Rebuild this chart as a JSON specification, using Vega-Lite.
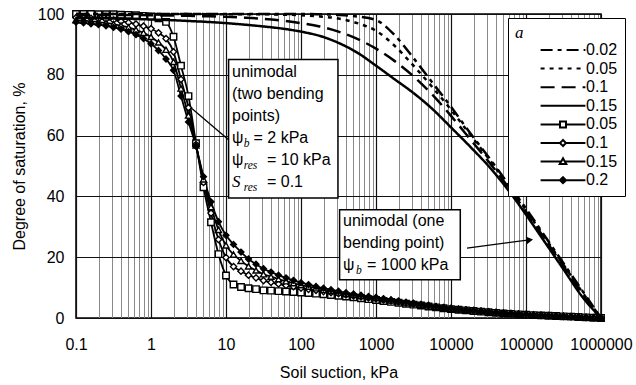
{
"$schema": "https://vega.github.io/schema/vega-lite/v6.json",
"width": 525, "height": 304,
"autosize": "none",
"padding": {"left": 76, "top": 14, "right": 35, "bottom": 67},
"background": "white",
"config": {
  "font": "Liberation Sans",
  "view": {"stroke": "black", "strokeWidth": 1.5},
  "axis": {"labelFont": "Liberation Sans", "labelFontSize": 16, "labelColor": "black", "titleFont": "Liberation Sans", "titleFontSize": 16, "titleFontWeight": "normal", "titleColor": "black", "ticks": false, "domain": false},
  "legend": {"fillColor": "white", "strokeColor": "black", "padding": 7, "titleFont": "Liberation Serif", "titleFontStyle": "italic", "titleFontWeight": "normal", "titleFontSize": 17, "titleColor": "black", "titlePadding": 0, "labelFont": "Liberation Sans", "labelFontSize": 16, "labelColor": "black", "symbolSize": 196, "symbolStrokeWidth": 2, "symbolStrokeColor": "black", "symbolOpacity": 1, "symbolOffset": 40, "labelOffset": 15, "rowPadding": 2.6}
},
"datasets": {
"bi": [
{"s":"b0.05","p":0.1,"S":100},{"s":"b0.05","p":0.1259,"S":100},{"s":"b0.05","p":0.1585,"S":100},{"s":"b0.05","p":0.1995,"S":99.9},{"s":"b0.05","p":0.2512,"S":99.9},{"s":"b0.05","p":0.3162,"S":99.9},{"s":"b0.05","p":0.3981,"S":99.8},{"s":"b0.05","p":0.5012,"S":99.7},{"s":"b0.05","p":0.631,"S":99.6},{"s":"b0.05","p":0.7943,"S":99.4},
{"s":"b0.05","p":1,"S":99.2},{"s":"b0.05","p":1.259,"S":98.6},{"s":"b0.05","p":1.585,"S":97.4},{"s":"b0.05","p":1.995,"S":92.5},{"s":"b0.05","p":2.512,"S":83},{"s":"b0.05","p":3.162,"S":73},{"s":"b0.05","p":3.981,"S":57.5},{"s":"b0.05","p":5.012,"S":43},{"s":"b0.05","p":6.31,"S":31.5},{"s":"b0.05","p":7.943,"S":21},
{"s":"b0.05","p":10,"S":14},{"s":"b0.05","p":12.59,"S":11},{"s":"b0.05","p":15.85,"S":10.2},{"s":"b0.05","p":19.95,"S":9.8},{"s":"b0.05","p":25.12,"S":9.5},{"s":"b0.05","p":31.62,"S":9.1},{"s":"b0.05","p":39.81,"S":9.0},{"s":"b0.05","p":50.12,"S":8.85},{"s":"b0.05","p":63.1,"S":8.7},{"s":"b0.05","p":79.43,"S":8.55},
{"s":"b0.05","p":100,"S":8.4},{"s":"b0.05","p":125.9,"S":8.2},{"s":"b0.05","p":158.5,"S":8.0},{"s":"b0.05","p":199.5,"S":7.8},{"s":"b0.05","p":251.2,"S":7.55},{"s":"b0.05","p":316.2,"S":7.3},{"s":"b0.05","p":398.1,"S":7.05},{"s":"b0.05","p":501.2,"S":6.8},{"s":"b0.05","p":631,"S":6.5},{"s":"b0.05","p":794.3,"S":6.2},
{"s":"b0.05","p":1000,"S":5.9},{"s":"b0.05","p":1259,"S":5.6},{"s":"b0.05","p":1585,"S":5.3},{"s":"b0.05","p":1995,"S":5.0},{"s":"b0.05","p":2512,"S":4.7},{"s":"b0.05","p":3162,"S":4.4},{"s":"b0.05","p":3981,"S":4.1},{"s":"b0.05","p":5012,"S":3.8},{"s":"b0.05","p":6310,"S":3.5},{"s":"b0.05","p":7943,"S":3.2},
{"s":"b0.05","p":10000,"S":2.9},{"s":"b0.05","p":12590,"S":2.7},{"s":"b0.05","p":15850,"S":2.5},{"s":"b0.05","p":19950,"S":2.3},{"s":"b0.05","p":25120,"S":2.1},{"s":"b0.05","p":31620,"S":1.9},{"s":"b0.05","p":39810,"S":1.7},{"s":"b0.05","p":50120,"S":1.5},{"s":"b0.05","p":63100,"S":1.35},{"s":"b0.05","p":79430,"S":1.2},
{"s":"b0.05","p":100000,"S":1.05},{"s":"b0.05","p":125900,"S":0.95},{"s":"b0.05","p":158500,"S":0.85},{"s":"b0.05","p":199500,"S":0.75},{"s":"b0.05","p":251200,"S":0.65},{"s":"b0.05","p":316200,"S":0.55},{"s":"b0.05","p":398100,"S":0.45},{"s":"b0.05","p":501200,"S":0.35},{"s":"b0.05","p":631000,"S":0.22},{"s":"b0.05","p":794300,"S":0.1},{"s":"b0.05","p":1000000,"S":0},

{"s":"b0.1","p":0.1,"S":98.8},{"s":"b0.1","p":0.1259,"S":98.7},{"s":"b0.1","p":0.1585,"S":98.6},{"s":"b0.1","p":0.1995,"S":98.4},{"s":"b0.1","p":0.2512,"S":98.2},{"s":"b0.1","p":0.3162,"S":98.0},{"s":"b0.1","p":0.3981,"S":97.6},{"s":"b0.1","p":0.5012,"S":97.2},{"s":"b0.1","p":0.631,"S":96.7},{"s":"b0.1","p":0.7943,"S":96.0},
{"s":"b0.1","p":1,"S":95.15},{"s":"b0.1","p":1.259,"S":93.8},{"s":"b0.1","p":1.585,"S":91.9},{"s":"b0.1","p":1.995,"S":87.55},{"s":"b0.1","p":2.512,"S":78.5},{"s":"b0.1","p":3.162,"S":69.2},{"s":"b0.1","p":3.981,"S":57.05},{"s":"b0.1","p":5.012,"S":44.6},{"s":"b0.1","p":6.31,"S":34.5},{"s":"b0.1","p":7.943,"S":25.8},
{"s":"b0.1","p":10,"S":19.9},{"s":"b0.1","p":12.59,"S":16.9},{"s":"b0.1","p":15.85,"S":15.4},{"s":"b0.1","p":19.95,"S":14.1},{"s":"b0.1","p":25.12,"S":13.2},{"s":"b0.1","p":31.62,"S":12.3},{"s":"b0.1","p":39.81,"S":11.75},{"s":"b0.1","p":50.12,"S":11.2},{"s":"b0.1","p":63.1,"S":10.7},{"s":"b0.1","p":79.43,"S":10.3},
{"s":"b0.1","p":100,"S":9.85},{"s":"b0.1","p":125.9,"S":9.45},{"s":"b0.1","p":158.5,"S":9.1},{"s":"b0.1","p":199.5,"S":8.7},{"s":"b0.1","p":251.2,"S":8.35},{"s":"b0.1","p":316.2,"S":8.0},{"s":"b0.1","p":398.1,"S":7.6},{"s":"b0.1","p":501.2,"S":7.3},{"s":"b0.1","p":631,"S":6.95},{"s":"b0.1","p":794.3,"S":6.6},
{"s":"b0.1","p":1000,"S":6.3},{"s":"b0.1","p":1259,"S":5.95},{"s":"b0.1","p":1585,"S":5.6},{"s":"b0.1","p":1995,"S":5.3},{"s":"b0.1","p":2512,"S":4.9},{"s":"b0.1","p":3162,"S":4.6},{"s":"b0.1","p":3981,"S":4.3},{"s":"b0.1","p":5012,"S":4.0},{"s":"b0.1","p":6310,"S":3.65},{"s":"b0.1","p":7943,"S":3.35},
{"s":"b0.1","p":10000,"S":3.05},{"s":"b0.1","p":12590,"S":2.8},{"s":"b0.1","p":15850,"S":2.6},{"s":"b0.1","p":19950,"S":2.4},{"s":"b0.1","p":25120,"S":2.2},{"s":"b0.1","p":31620,"S":2.0},{"s":"b0.1","p":39810,"S":1.8},{"s":"b0.1","p":50120,"S":1.6},{"s":"b0.1","p":63100,"S":1.42},{"s":"b0.1","p":79430,"S":1.27},
{"s":"b0.1","p":100000,"S":1.12},{"s":"b0.1","p":125900,"S":1.0},{"s":"b0.1","p":158500,"S":0.87},{"s":"b0.1","p":199500,"S":0.77},{"s":"b0.1","p":251200,"S":0.67},{"s":"b0.1","p":316200,"S":0.57},{"s":"b0.1","p":398100,"S":0.45},{"s":"b0.1","p":501200,"S":0.35},{"s":"b0.1","p":631000,"S":0.22},{"s":"b0.1","p":794300,"S":0.1},{"s":"b0.1","p":1000000,"S":0},

{"s":"b0.15","p":0.1,"S":98.0},{"s":"b0.15","p":0.1259,"S":97.8},{"s":"b0.15","p":0.1585,"S":97.6},{"s":"b0.15","p":0.1995,"S":97.35},{"s":"b0.15","p":0.2512,"S":97.05},{"s":"b0.15","p":0.3162,"S":96.7},{"s":"b0.15","p":0.3981,"S":96.2},{"s":"b0.15","p":0.5012,"S":95.6},{"s":"b0.15","p":0.631,"S":94.8},{"s":"b0.15","p":0.7943,"S":93.8},
{"s":"b0.15","p":1,"S":92.45},{"s":"b0.15","p":1.259,"S":90.65},{"s":"b0.15","p":1.585,"S":88.25},{"s":"b0.15","p":1.995,"S":84.25},{"s":"b0.15","p":2.512,"S":75.5},{"s":"b0.15","p":3.162,"S":66.6},{"s":"b0.15","p":3.981,"S":56.75},{"s":"b0.15","p":5.012,"S":45.6},{"s":"b0.15","p":6.31,"S":36.5},{"s":"b0.15","p":7.943,"S":29.0},
{"s":"b0.15","p":10,"S":23.9},{"s":"b0.15","p":12.59,"S":20.9},{"s":"b0.15","p":15.85,"S":18.8},{"s":"b0.15","p":19.95,"S":17.0},{"s":"b0.15","p":25.12,"S":15.65},{"s":"b0.15","p":31.62,"S":14.4},{"s":"b0.15","p":39.81,"S":13.6},{"s":"b0.15","p":50.12,"S":12.8},{"s":"b0.15","p":63.1,"S":12.1},{"s":"b0.15","p":79.43,"S":11.45},
{"s":"b0.15","p":100,"S":10.8},{"s":"b0.15","p":125.9,"S":10.3},{"s":"b0.15","p":158.5,"S":9.8},{"s":"b0.15","p":199.5,"S":9.3},{"s":"b0.15","p":251.2,"S":8.85},{"s":"b0.15","p":316.2,"S":8.4},{"s":"b0.15","p":398.1,"S":7.95},{"s":"b0.15","p":501.2,"S":7.6},{"s":"b0.15","p":631,"S":7.25},{"s":"b0.15","p":794.3,"S":6.9},
{"s":"b0.15","p":1000,"S":6.6},{"s":"b0.15","p":1259,"S":6.2},{"s":"b0.15","p":1585,"S":5.8},{"s":"b0.15","p":1995,"S":5.45},{"s":"b0.15","p":2512,"S":5.1},{"s":"b0.15","p":3162,"S":4.8},{"s":"b0.15","p":3981,"S":4.4},{"s":"b0.15","p":5012,"S":4.1},{"s":"b0.15","p":6310,"S":3.7},{"s":"b0.15","p":7943,"S":3.4},
{"s":"b0.15","p":10000,"S":3.1},{"s":"b0.15","p":12590,"S":2.85},{"s":"b0.15","p":15850,"S":2.65},{"s":"b0.15","p":19950,"S":2.45},{"s":"b0.15","p":25120,"S":2.25},{"s":"b0.15","p":31620,"S":2.05},{"s":"b0.15","p":39810,"S":1.85},{"s":"b0.15","p":50120,"S":1.65},{"s":"b0.15","p":63100,"S":1.46},{"s":"b0.15","p":79430,"S":1.31},
{"s":"b0.15","p":100000,"S":1.16},{"s":"b0.15","p":125900,"S":1.03},{"s":"b0.15","p":158500,"S":0.89},{"s":"b0.15","p":199500,"S":0.79},{"s":"b0.15","p":251200,"S":0.69},{"s":"b0.15","p":316200,"S":0.59},{"s":"b0.15","p":398100,"S":0.45},{"s":"b0.15","p":501200,"S":0.35},{"s":"b0.15","p":631000,"S":0.22},{"s":"b0.15","p":794300,"S":0.1},{"s":"b0.15","p":1000000,"S":0},

{"s":"b0.2","p":0.1,"S":97.3},{"s":"b0.2","p":0.1259,"S":97.1},{"s":"b0.2","p":0.1585,"S":96.8},{"s":"b0.2","p":0.1995,"S":96.5},{"s":"b0.2","p":0.2512,"S":96.1},{"s":"b0.2","p":0.3162,"S":95.6},{"s":"b0.2","p":0.3981,"S":95.0},{"s":"b0.2","p":0.5012,"S":94.2},{"s":"b0.2","p":0.631,"S":93.2},{"s":"b0.2","p":0.7943,"S":91.9},
{"s":"b0.2","p":1,"S":90.2},{"s":"b0.2","p":1.259,"S":88.0},{"s":"b0.2","p":1.585,"S":85.2},{"s":"b0.2","p":1.995,"S":81.5},{"s":"b0.2","p":2.512,"S":73},{"s":"b0.2","p":3.162,"S":64.5},{"s":"b0.2","p":3.981,"S":56.5},{"s":"b0.2","p":5.012,"S":46.5},{"s":"b0.2","p":6.31,"S":38.2},{"s":"b0.2","p":7.943,"S":31.7},
{"s":"b0.2","p":10,"S":27.2},{"s":"b0.2","p":12.59,"S":24.2},{"s":"b0.2","p":15.85,"S":21.7},{"s":"b0.2","p":19.95,"S":19.4},{"s":"b0.2","p":25.12,"S":17.7},{"s":"b0.2","p":31.62,"S":16.2},{"s":"b0.2","p":39.81,"S":15.1},{"s":"b0.2","p":50.12,"S":14.1},{"s":"b0.2","p":63.1,"S":13.2},{"s":"b0.2","p":79.43,"S":12.4},
{"s":"b0.2","p":100,"S":11.6},{"s":"b0.2","p":125.9,"S":11.0},{"s":"b0.2","p":158.5,"S":10.4},{"s":"b0.2","p":199.5,"S":9.8},{"s":"b0.2","p":251.2,"S":9.3},{"s":"b0.2","p":316.2,"S":8.8},{"s":"b0.2","p":398.1,"S":8.3},{"s":"b0.2","p":501.2,"S":7.9},{"s":"b0.2","p":631,"S":7.5},{"s":"b0.2","p":794.3,"S":7.1},
{"s":"b0.2","p":1000,"S":6.8},{"s":"b0.2","p":1259,"S":6.4},{"s":"b0.2","p":1585,"S":6.0},{"s":"b0.2","p":1995,"S":5.6},{"s":"b0.2","p":2512,"S":5.2},{"s":"b0.2","p":3162,"S":4.9},{"s":"b0.2","p":3981,"S":4.5},{"s":"b0.2","p":5012,"S":4.2},{"s":"b0.2","p":6310,"S":3.8},{"s":"b0.2","p":7943,"S":3.5},
{"s":"b0.2","p":10000,"S":3.2},{"s":"b0.2","p":12590,"S":2.9},{"s":"b0.2","p":15850,"S":2.7},{"s":"b0.2","p":19950,"S":2.5},{"s":"b0.2","p":25120,"S":2.3},{"s":"b0.2","p":31620,"S":2.1},{"s":"b0.2","p":39810,"S":1.9},{"s":"b0.2","p":50120,"S":1.7},{"s":"b0.2","p":63100,"S":1.5},{"s":"b0.2","p":79430,"S":1.35},
{"s":"b0.2","p":100000,"S":1.2},{"s":"b0.2","p":125900,"S":1.05},{"s":"b0.2","p":158500,"S":0.9},{"s":"b0.2","p":199500,"S":0.8},{"s":"b0.2","p":251200,"S":0.7},{"s":"b0.2","p":316200,"S":0.6},{"s":"b0.2","p":398100,"S":0.45},{"s":"b0.2","p":501200,"S":0.35},{"s":"b0.2","p":631000,"S":0.22},{"s":"b0.2","p":794300,"S":0.1},{"s":"b0.2","p":1000000,"S":0}
],
"uni": [
{"s":"u0.15","p":0.1,"S":98.8},{"s":"u0.15","p":0.1778,"S":98.7},{"s":"u0.15","p":0.3162,"S":98.5},{"s":"u0.15","p":0.5623,"S":98.4},{"s":"u0.15","p":1,"S":98.2},{"s":"u0.15","p":1.778,"S":98.0},{"s":"u0.15","p":3.162,"S":97.7},{"s":"u0.15","p":5.623,"S":97.4},{"s":"u0.15","p":10,"S":97.0},{"s":"u0.15","p":17.78,"S":96.5},{"s":"u0.15","p":31.62,"S":95.9},{"s":"u0.15","p":56.23,"S":95.2},{"s":"u0.15","p":100,"S":94.2},{"s":"u0.15","p":177.8,"S":92.8},{"s":"u0.15","p":316.2,"S":90.5},{"s":"u0.15","p":562.3,"S":87.3},{"s":"u0.15","p":1000,"S":83},{"s":"u0.15","p":1778,"S":78.5},{"s":"u0.15","p":3162,"S":74},{"s":"u0.15","p":5623,"S":68.8},{"s":"u0.15","p":10000,"S":62.7},{"s":"u0.15","p":17780,"S":56.5},{"s":"u0.15","p":31620,"S":50},{"s":"u0.15","p":56230,"S":42.5},{"s":"u0.15","p":100000,"S":34},{"s":"u0.15","p":177800,"S":25},{"s":"u0.15","p":316200,"S":16},{"s":"u0.15","p":562300,"S":7},{"s":"u0.15","p":1000000,"S":0},
{"s":"u0.1","p":0.1,"S":99.8},{"s":"u0.1","p":0.1778,"S":99.75},{"s":"u0.1","p":0.3162,"S":99.7},{"s":"u0.1","p":0.5623,"S":99.65},{"s":"u0.1","p":1,"S":99.6},{"s":"u0.1","p":1.778,"S":99.5},{"s":"u0.1","p":3.162,"S":99.4},{"s":"u0.1","p":5.623,"S":99.25},{"s":"u0.1","p":10,"S":99.1},{"s":"u0.1","p":17.78,"S":98.8},{"s":"u0.1","p":31.62,"S":98.4},{"s":"u0.1","p":56.23,"S":97.8},{"s":"u0.1","p":100,"S":97.0},{"s":"u0.1","p":177.8,"S":95.9},{"s":"u0.1","p":316.2,"S":94.2},{"s":"u0.1","p":562.3,"S":91.8},{"s":"u0.1","p":1000,"S":88.6},{"s":"u0.1","p":1778,"S":84.5},{"s":"u0.1","p":3162,"S":79.5},{"s":"u0.1","p":5623,"S":73.5},{"s":"u0.1","p":10000,"S":66.5},{"s":"u0.1","p":17780,"S":59},{"s":"u0.1","p":31620,"S":51.5},{"s":"u0.1","p":56230,"S":43.5},{"s":"u0.1","p":100000,"S":35},{"s":"u0.1","p":177800,"S":26},{"s":"u0.1","p":316200,"S":17},{"s":"u0.1","p":562300,"S":8},{"s":"u0.1","p":1000000,"S":0},
{"s":"u0.05","p":0.1,"S":100},{"s":"u0.05","p":0.1778,"S":100},{"s":"u0.05","p":0.3162,"S":100},{"s":"u0.05","p":0.5623,"S":100},{"s":"u0.05","p":1,"S":100},{"s":"u0.05","p":1.778,"S":100},{"s":"u0.05","p":3.162,"S":100},{"s":"u0.05","p":5.623,"S":99.95},{"s":"u0.05","p":10,"S":99.9},{"s":"u0.05","p":17.78,"S":99.9},{"s":"u0.05","p":31.62,"S":99.9},{"s":"u0.05","p":56.23,"S":99.8},{"s":"u0.05","p":100,"S":99.6},{"s":"u0.05","p":177.8,"S":99.2},{"s":"u0.05","p":316.2,"S":98.5},{"s":"u0.05","p":562.3,"S":97},{"s":"u0.05","p":1000,"S":94.5},{"s":"u0.05","p":1778,"S":89.5},{"s":"u0.05","p":3162,"S":83},{"s":"u0.05","p":5623,"S":76},{"s":"u0.05","p":10000,"S":68.5},{"s":"u0.05","p":17780,"S":60.5},{"s":"u0.05","p":31620,"S":52.5},{"s":"u0.05","p":56230,"S":44},{"s":"u0.05","p":100000,"S":35.5},{"s":"u0.05","p":177800,"S":26.5},{"s":"u0.05","p":316200,"S":17.5},{"s":"u0.05","p":562300,"S":8.5},{"s":"u0.05","p":1000000,"S":0},
{"s":"u0.02","p":0.1,"S":100},{"s":"u0.02","p":0.1778,"S":100},{"s":"u0.02","p":0.3162,"S":100},{"s":"u0.02","p":0.5623,"S":100},{"s":"u0.02","p":1,"S":100},{"s":"u0.02","p":1.778,"S":100},{"s":"u0.02","p":3.162,"S":100},{"s":"u0.02","p":5.623,"S":100},{"s":"u0.02","p":10,"S":100},{"s":"u0.02","p":17.78,"S":100},{"s":"u0.02","p":31.62,"S":100},{"s":"u0.02","p":56.23,"S":100},{"s":"u0.02","p":100,"S":100},{"s":"u0.02","p":177.8,"S":99.9},{"s":"u0.02","p":316.2,"S":99.7},{"s":"u0.02","p":562.3,"S":99.2},{"s":"u0.02","p":1000,"S":98},{"s":"u0.02","p":1778,"S":93},{"s":"u0.02","p":3162,"S":85.5},{"s":"u0.02","p":5623,"S":77.5},{"s":"u0.02","p":10000,"S":69.5},{"s":"u0.02","p":17780,"S":61},{"s":"u0.02","p":31620,"S":53},{"s":"u0.02","p":56230,"S":44.5},{"s":"u0.02","p":100000,"S":36},{"s":"u0.02","p":177800,"S":27},{"s":"u0.02","p":316200,"S":18},{"s":"u0.02","p":562300,"S":9},{"s":"u0.02","p":1000000,"S":0}
],
"notes": [
{"p":12.02,"S":79.3,"t":"unimodal"},{"p":12.02,"S":71.9,"t":"(two bending"},{"p":12.02,"S":64.8,"t":"points)"},
{"p":12.02,"S":57.6,"t":"ψ"},{"p":23.3,"S":57.6,"t":"= 2 kPa"},{"p":12.02,"S":50.4,"t":"ψ"},{"p":35.2,"S":50.4,"t":"= 10 kPa"},{"p":35.2,"S":43.1,"t":"= 0.1"},
{"p":363,"S":30.1,"t":"unimodal (one"},{"p":363,"S":23.0,"t":"bending point)"},{"p":363,"S":15.9,"t":"ψ"},{"p":758.6,"S":15.9,"t":"= 1000 kPa"}
],
"subs": [{"p":17.2,"S":56.3,"t":"b"},{"p":17.2,"S":49.1,"t":"res"},{"p":17.2,"S":41.8,"t":"res"},{"p":540,"S":14.6,"t":"b"}],
"ital": [{"p":12.02,"S":43.1,"t":"S"}],
"boxes": [{"p":10.83,"p2":311,"S":39.5,"S2":85.05},{"p":327,"p2":13300,"S":12.6,"S2":35.6}],
"arrows": [{"p":10.83,"p2":3.44,"S":58.6,"S2":69.1},{"p":16340,"p2":118000,"S":23.0,"S2":25.8}],
"heads": [{"p":112000,"S":25.7}],
"leg": [{"s":"u0.02"},{"s":"u0.05"},{"s":"u0.1"},{"s":"u0.15"},{"s":"b0.05"},{"s":"b0.1"},{"s":"b0.15"},{"s":"b0.2"}]
},
"layer": [
{
 "data": {"name": "bi"},
 "mark": {"type": "line", "stroke": "black", "strokeWidth": 1.8, "interpolate": "monotone"},
 "encoding": {
  "x": {"field": "p", "type": "quantitative", "scale": {"type": "log", "domain": [0.1, 1000000], "nice": false},
   "axis": {"title": "Soil suction, kPa", "values": [0.1,0.2,0.3,0.4,0.5,0.6,0.7,0.8,0.9,1,2,3,4,5,6,7,8,9,10,20,30,40,50,60,70,80,90,100,200,300,400,500,600,700,800,900,1000,2000,3000,4000,5000,6000,7000,8000,9000,10000,20000,30000,40000,50000,60000,70000,80000,90000,100000,200000,300000,400000,500000,600000,700000,800000,900000,1000000],
    "labelExpr": "abs(log(datum.value)/LN10 - round(log(datum.value)/LN10)) < 0.001 ? format(datum.value, '~f') : ''",
    "labelFlush": false, "labelOverlap": false, "labelPadding": 18, "titlePadding": 12,
    "grid": true,
    "gridColor": {"condition": {"test": "abs(log(datum.value)/LN10 - round(log(datum.value)/LN10)) < 0.001", "value": "#111111"}, "value": "#8a8a8a"},
    "gridWidth": {"condition": {"test": "abs(log(datum.value)/LN10 - round(log(datum.value)/LN10)) < 0.001", "value": 1.2}, "value": 1}}},
  "y": {"field": "S", "type": "quantitative", "scale": {"domain": [0, 100], "nice": false},
   "axis": {"title": "Degree of saturation, %", "values": [0,10,20,30,40,50,60,70,80,90,100], "grid": true, "gridColor": "#111111", "gridWidth": 1, "labelPadding": 12, "titlePadding": 10}},
  "detail": {"field": "s"}
 }
},
{
 "data": {"name": "bi"},
 "mark": {"type": "point", "filled": true, "stroke": "black", "strokeWidth": 1.4, "opacity": 1},
 "encoding": {
  "x": {"field": "p", "type": "quantitative"},
  "y": {"field": "S", "type": "quantitative"},
  "shape": {"field": "s", "type": "nominal", "scale": {"domain": ["b0.05","b0.1","b0.15","b0.2"], "range": ["square","diamond","triangle-up","diamond"]}, "legend": null},
  "fill": {"field": "s", "type": "nominal", "scale": {"domain": ["b0.05","b0.1","b0.15","b0.2"], "range": ["white","white","white","black"]}, "legend": null},
  "size": {"field": "s", "type": "nominal", "scale": {"domain": ["b0.05","b0.1","b0.15","b0.2"], "range": [42, 34, 46, 36]}, "legend": null}
 }
},
{
 "data": {"name": "uni"},
 "mark": {"type": "line", "stroke": "black", "strokeWidth": 2.5, "interpolate": "monotone"},
 "encoding": {
  "x": {"field": "p", "type": "quantitative"},
  "y": {"field": "S", "type": "quantitative"},
  "strokeDash": {"field": "s", "type": "nominal", "scale": {"domain": ["u0.02","u0.05","u0.1","u0.15"], "range": [[12,5,4,5],[4,5],[14,7],[1,0]]}, "legend": null}
 }
},
{
 "data": {"name": "boxes"},
 "mark": {"type": "rect", "fill": "white", "stroke": "black", "strokeWidth": 1.5},
 "encoding": {"x": {"field": "p", "type": "quantitative"}, "x2": {"field": "p2"}, "y": {"field": "S", "type": "quantitative"}, "y2": {"field": "S2"}}
},
{
 "data": {"name": "arrows"},
 "mark": {"type": "rule", "stroke": "black", "strokeWidth": 1.3},
 "encoding": {"x": {"field": "p", "type": "quantitative"}, "x2": {"field": "p2"}, "y": {"field": "S", "type": "quantitative"}, "y2": {"field": "S2"}}
},
{
 "data": {"name": "heads"},
 "mark": {"type": "point", "shape": "triangle-right", "filled": true, "fill": "black", "size": 60, "angle": -8, "opacity": 1},
 "encoding": {"x": {"field": "p", "type": "quantitative"}, "y": {"field": "S", "type": "quantitative"}}
},
{
 "data": {"name": "notes"},
 "mark": {"type": "text", "align": "left", "baseline": "alphabetic", "font": "Liberation Sans", "fontSize": 16, "fill": "black"},
 "encoding": {"x": {"field": "p", "type": "quantitative"}, "y": {"field": "S", "type": "quantitative"}, "text": {"field": "t"}}
},
{
 "data": {"name": "subs"},
 "mark": {"type": "text", "align": "left", "baseline": "alphabetic", "font": "Liberation Serif", "fontStyle": "italic", "fontSize": 11.5, "fill": "black"},
 "encoding": {"x": {"field": "p", "type": "quantitative"}, "y": {"field": "S", "type": "quantitative"}, "text": {"field": "t"}}
},
{
 "data": {"name": "ital"},
 "mark": {"type": "text", "align": "left", "baseline": "alphabetic", "font": "Liberation Serif", "fontStyle": "italic", "fontSize": 17, "fill": "black"},
 "encoding": {"x": {"field": "p", "type": "quantitative"}, "y": {"field": "S", "type": "quantitative"}, "text": {"field": "t"}}
},
{
 "data": {"name": "leg"},
 "mark": {"type": "point", "filled": true, "stroke": "black", "strokeWidth": 2, "opacity": 0},
 "encoding": {
  "shape": {"field": "s", "type": "nominal", "scale": {"domain": ["u0.02","u0.05","u0.1","u0.15","b0.05","b0.1","b0.15","b0.2"], "range": ["M-3.2,0H3.2","M-3.2,0H3.2","M-3.2,0H3.2","M-3.2,0H3.2","M-3.2,0H-0.43M-0.43,-0.43H0.43V0.43H-0.43ZM0.43,0H3.2","M-3.2,0H-0.43M-0.43,0L0,-0.43L0.43,0L0,0.43ZM0.43,0H3.2","M-3.2,0H-0.36M0.36,0H3.2M-0.47,0.36L0,-0.47L0.47,0.36Z","M-3.2,0H3.2M-0.43,0L0,-0.43L0.43,0L0,0.43Z"]},
   "legend": {"title": "\u00a0\u00a0\u00a0a", "orient": "none", "legendX": 432, "legendY": 4, "labelExpr": "substring(datum.label, 1)",
    "encode": {"symbols": {"update": {"stroke": {"value": "black"}, "strokeWidth": {"value": 2}, "opacity": {"value": 1}}}}}},
  "fill": {"field": "s", "type": "nominal", "scale": {"domain": ["u0.02","u0.05","u0.1","u0.15","b0.05","b0.1","b0.15","b0.2"], "range": ["white","white","white","white","white","white","white","black"]},
   "legend": {"title": "\u00a0\u00a0\u00a0a", "orient": "none", "legendX": 432, "legendY": 4, "labelExpr": "substring(datum.label, 1)",
    "encode": {"symbols": {"update": {"stroke": {"value": "black"}, "strokeWidth": {"value": 2}, "opacity": {"value": 1}}}}}},
  "strokeDash": {"field": "s", "type": "nominal", "scale": {"domain": ["u0.02","u0.05","u0.1","u0.15","b0.05","b0.1","b0.15","b0.2"], "range": [[12,5,4,5],[4,5],[14,7],[1,0],[1,0],[1,0],[1,0],[1,0]]},
   "legend": {"title": "\u00a0\u00a0\u00a0a", "orient": "none", "legendX": 432, "legendY": 4, "labelExpr": "substring(datum.label, 1)",
    "encode": {"symbols": {"update": {"stroke": {"value": "black"}, "strokeWidth": {"value": 2}, "opacity": {"value": 1}}}}}}
 }
}
],
"resolve": {"scale": {"shape": "independent", "fill": "independent", "strokeDash": "independent", "size": "independent"}}
}
